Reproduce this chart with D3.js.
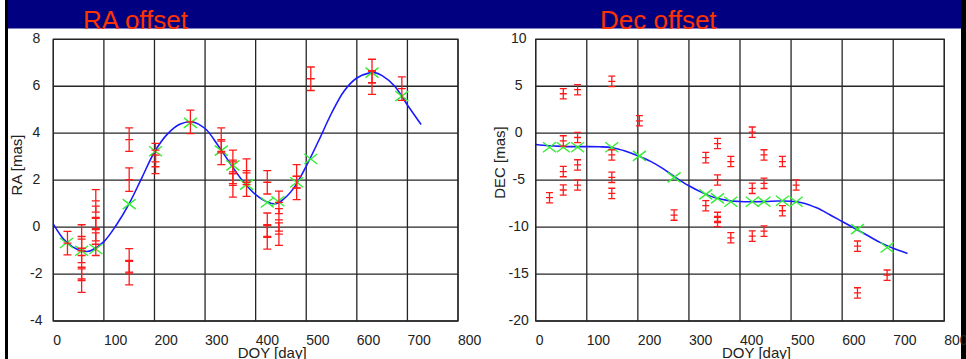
<!DOCTYPE html>
<html>
<head>
<meta charset="utf-8">
<script src="https://cdn.jsdelivr.net/npm/d3@7/dist/d3.min.js"></script>
<style>
  body { margin: 0; background: #fff; }
  svg text { font-family: "Liberation Sans", Arial, sans-serif; }
</style>
</head>
<body>
<script>
//tick labels
var dayTicks = [0, 100, 200, 300, 400, 500, 600, 700, 800];
var raTicks = [-4, -2, 0, 2, 4, 6, 8];
var decTicks = [-20, -15, -10, -5, 0, 5, 10];

//RA observations (red error bars)
var raObsDay = [28, 56, 56, 56, 56, 84, 84, 84, 84, 150, 150, 150, 150, 202, 202, 271,
  332, 332, 355, 355, 355, 382, 382, 423, 423, 423, 446, 446, 446, 481, 481, 509, 630, 630, 689];
var raObsVal = [-0.68, -0.40, -1.01, -1.71, -2.28, 1.12, 0.41, -0.11, -0.73, 3.73, 2.02, -1.42, -1.96, 3.07, 2.78, 4.48,
  3.73, 3.16, 2.78, 2.35, 1.78, 2.41, 1.81, 1.91, 0.10, -0.44, 1.05, 0.31, -0.30, 2.16, 1.67, 6.32, 6.65, 6.15, 5.90];
var raObsErr = [0.5, 0.5, 0.5, 0.5, 0.5, 0.48, 0.48, 0.48, 0.48, 0.5, 0.5, 0.5, 0.5, 0.5, 0.5, 0.5,
  0.5, 0.5, 0.5, 0.5, 0.5, 0.5, 0.5, 0.5, 0.5, 0.5, 0.48, 0.48, 0.48, 0.5, 0.5, 0.5, 0.5, 0.5, 0.5];

//RA model points (green crosses)
var raModelDay = [26, 56, 84, 150, 202, 271, 332, 355, 382, 423, 444, 481, 509, 630, 689];
var raModelVal = [-0.68, -1.01, -0.93, 0.98, 3.23, 4.44, 3.26, 2.63, 1.81, 1.05, 1.10, 1.91, 2.90, 6.58, 5.58];

//RA fitted curve (blue)
var raCurveDay = [0, 25, 50, 67, 75, 100, 125, 150, 175, 200, 225, 250, 275, 300, 325, 350, 375, 400,
  425, 440, 450, 475, 500, 525, 550, 575, 600, 625, 635, 650, 675, 700, 727];
var raCurveVal = [0.13, -0.62, -0.98, -1.04, -1.0, -0.62, 0.1, 1.0, 2.1, 3.2, 3.95, 4.38, 4.48, 4.2, 3.5, 2.7, 1.95, 1.38,
  1.05, 1.0, 1.1, 1.65, 2.6, 3.7, 4.85, 5.8, 6.35, 6.57, 6.58, 6.45, 6.0, 5.2, 4.37];

//Dec observations (red error bars)
var decObsDay = [27, 54, 54, 54, 54, 82, 82, 82, 82, 149, 149, 149, 149, 203, 271, 333, 333,
  356, 356, 356, 356, 382, 382, 424, 424, 424, 447, 447, 447, 483, 483, 510, 630, 630, 688];
var decObsVal = [-6.87, 4.20, -0.82, -4.09, -6.05, 4.63, -0.46, -3.38, -5.52, 5.52, -2.31, -4.70, -6.41, 1.32, -8.72, -2.60, -7.72,
  -1.10, -4.98, -8.97, -9.40, -3.02, -11.14, 0.11, -5.87, -10.96, -2.31, -5.34, -10.43, -3.02, -8.26, -5.52, -12.03, -17.01, -15.12];
var decObsErr = [0.55, 0.55, 0.55, 0.55, 0.55, 0.55, 0.55, 0.55, 0.55, 0.55, 0.55, 0.55, 0.55, 0.55, 0.55, 0.55, 0.55,
  0.55, 0.55, 0.55, 0.55, 0.55, 0.55, 0.55, 0.55, 0.55, 0.55, 0.55, 0.55, 0.55, 0.55, 0.55, 0.55, 0.55, 0.55];

//Dec model points (green crosses)
var decModelDay = [27, 54, 82, 149, 203, 271, 333, 356, 382, 424, 447, 483, 510, 630, 688];
var decModelVal = [-1.49, -1.49, -1.49, -1.49, -2.42, -4.70, -6.51, -6.94, -7.30, -7.30, -7.30, -7.19, -7.30, -10.21, -12.17];

//Dec fitted curve (blue)
var decCurveDay = [0, 25, 50, 75, 100, 125, 150, 175, 200, 225, 250, 275, 300, 325, 350, 375, 400,
  425, 450, 475, 500, 525, 550, 575, 600, 625, 650, 675, 700, 728];
var decCurveVal = [-1.2, -1.33, -1.4, -1.43, -1.43, -1.45, -1.55, -1.9, -2.4, -3.0, -3.8, -4.75, -5.6, -6.3, -6.85, -7.15, -7.28,
  -7.3, -7.28, -7.22, -7.25, -7.45, -7.95, -8.65, -9.4, -10.15, -10.9, -11.65, -12.25, -12.8];

//svg size
var svgWidth = 966;
var svgHeight = 359;

var svg = d3.select("body")
  .append("svg")
  .attr("width", svgWidth)
  .attr("height", svgHeight);

//page frame: banner and side bars
svg.append("rect")
  .attr("x", 8).attr("y", 0)
  .attr("width", 953).attr("height", 28.5)
  .attr("fill", "#000080");
svg.append("rect")
  .attr("x", 5).attr("y", 0)
  .attr("width", 3).attr("height", svgHeight)
  .attr("fill", "#000");
svg.append("rect")
  .attr("x", 961).attr("y", 0)
  .attr("width", 5).attr("height", svgHeight)
  .attr("fill", "#000");

//titles
svg.append("text")
  .attr("x", 83).attr("y", 29)
  .attr("font-size", "26px")
  .attr("fill", "#ff3300")
  .text("RA offset");
svg.append("text")
  .attr("x", 600).attr("y", 29)
  .attr("font-size", "26px")
  .attr("fill", "#ff3300")
  .text("Dec offset");

//draws one panel
function drawPanel(p) {
  var xScale = d3.scaleLinear().domain([0, 800]).range([p.left, p.right]);
  var yScale = d3.scaleLinear().domain(p.yDomain).range([321, 39.3]);

  var g = svg.append("g");

  //grid
  g.selectAll(".vgrid")
    .data(dayTicks)
    .enter()
    .append("line")
    .attr("x1", d => xScale(d)).attr("x2", d => xScale(d))
    .attr("y1", yScale.range()[0]).attr("y2", yScale.range()[1])
    .attr("stroke", "#262626")
    .attr("stroke-width", 1.3);
  g.selectAll(".hgrid")
    .data(p.yTicks)
    .enter()
    .append("line")
    .attr("x1", p.left).attr("x2", p.right)
    .attr("y1", d => yScale(d)).attr("y2", d => yScale(d))
    .attr("stroke", "#262626")
    .attr("stroke-width", 1.3);

  //tick labels
  g.selectAll(".xlab")
    .data(dayTicks)
    .enter()
    .append("text")
    .attr("x", d => xScale(d))
    .attr("y", 345)
    .attr("font-size", "14px")
    .attr("fill", "#222")
    .text(d => d);
  g.selectAll(".ylab")
    .data(p.yTicks)
    .enter()
    .append("text")
    .attr("x", p.left - 17)
    .attr("y", d => yScale(d) + 4)
    .attr("text-anchor", "middle")
    .attr("font-size", "14px")
    .attr("fill", "#222")
    .text(d => d);

  //axis titles
  g.append("text")
    .attr("x", (p.left + p.right) / 2 + 16.5)
    .attr("y", 358)
    .attr("text-anchor", "middle")
    .attr("font-size", "15px")
    .attr("fill", "#222")
    .text("DOY [day]");
  g.append("text")
    .attr("transform", `translate(${p.left - 31}, ${p.yLabelCenter}) rotate(-90)`)
    .attr("text-anchor", "middle")
    .attr("font-size", "15px")
    .attr("fill", "#222")
    .text(p.yLabel);

  //fitted curve
  var curve = p.curveDay.map((d, i) => [d, p.curveVal[i]]);
  var line = d3.line()
    .x(d => xScale(d[0]))
    .y(d => yScale(d[1]))
    .curve(d3.curveCatmullRom);
  g.append("path")
    .attr("d", line(curve))
    .attr("fill", "none")
    .attr("stroke", "#1a1aff")
    .attr("stroke-width", 1.6);

  //green crosses
  var model = p.modelDay.map((d, i) => [d, p.modelVal[i]]);
  g.selectAll(".model")
    .data(model)
    .enter()
    .append("path")
    .attr("d", d => {
      var cx = xScale(d[0]), cy = yScale(d[1]);
      return `M${cx - 6.5},${cy - 5}L${cx + 6.5},${cy + 5}M${cx - 6.5},${cy + 5}L${cx + 6.5},${cy - 5}`;
    })
    .attr("fill", "none")
    .attr("stroke", "#33ee33")
    .attr("stroke-width", 1.4);

  //red error bars
  var obs = p.obsDay.map((d, i) => [d, p.obsVal[i], p.obsErr[i]]);
  g.selectAll(".obs")
    .data(obs)
    .enter()
    .append("path")
    .attr("d", d => {
      var cx = xScale(d[0]), cy = yScale(d[1]);
      var top = yScale(d[1] + d[2]), bot = yScale(d[1] - d[2]);
      var w = p.cap;
      return `M${cx},${top}L${cx},${bot}` +
        `M${cx - w},${top}L${cx + w},${top}` +
        `M${cx - w},${bot}L${cx + w},${bot}` +
        `M${cx - w},${cy}L${cx + w},${cy}`;
    })
    .attr("fill", "none")
    .attr("stroke", "#ff1a1a")
    .attr("stroke-width", 1.3);

  //plot border
  g.append("rect")
    .attr("x", p.left).attr("y", yScale.range()[1])
    .attr("width", p.right - p.left)
    .attr("height", yScale.range()[0] - yScale.range()[1])
    .attr("fill", "none")
    .attr("stroke", "#262626")
    .attr("stroke-width", 1.3);
}

drawPanel({
  left: 53.3, right: 458, yDomain: [-4, 8], yTicks: raTicks,
  yLabel: "RA [mas]", yLabelCenter: 165, cap: 4,
  obsDay: raObsDay, obsVal: raObsVal, obsErr: raObsErr,
  modelDay: raModelDay, modelVal: raModelVal,
  curveDay: raCurveDay, curveVal: raCurveVal
});

drawPanel({
  left: 535.7, right: 944.3, yDomain: [-20, 10], yTicks: decTicks,
  yLabel: "DEC [mas]", yLabelCenter: 162.5, cap: 3.5,
  obsDay: decObsDay, obsVal: decObsVal, obsErr: decObsErr,
  modelDay: decModelDay, modelVal: decModelVal,
  curveDay: decCurveDay, curveVal: decCurveVal
});
</script>
</body>
</html>
